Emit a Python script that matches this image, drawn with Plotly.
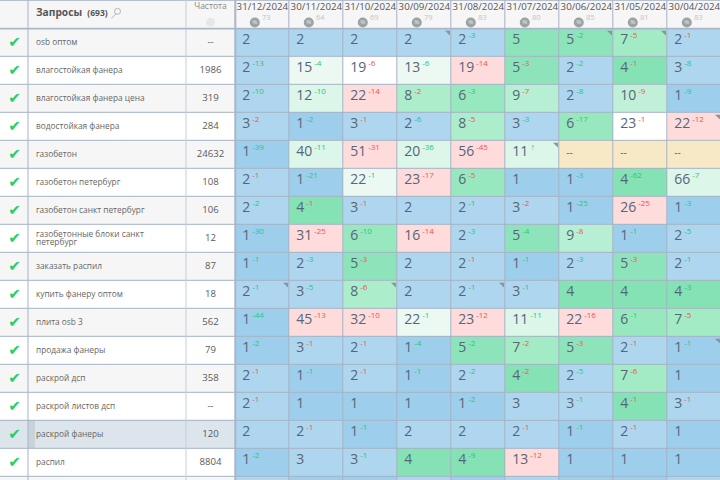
import plotly.graph_objects as go

queries = ["osb оптом", "влагостойкая фанера", "влагостойкая фанера цена", "водостойкая фанера",
           "газобетон", "газобетон петербург", "газобетон санкт петербург",
           "газобетонные блоки санкт\nпетербург", "заказать распил", "купить фанеру оптом",
           "плита osb 3", "продажа фанеры", "раскрой дсп", "раскрой листов дсп",
           "раскрой фанеры", "распил"]
frequency = ["--", "1986", "319", "284", "24632", "108", "106", "12", "87", "18", "562", "79", "358", "--", "120", "8804"]
dates = ["31/12/2024", "30/11/2024", "31/10/2024", "30/09/2024", "31/08/2024", "31/07/2024", "30/06/2024", "31/05/2024", "30/04/2024"]
visibility = [73, 64, 69, 79, 83, 80, 85, 81, 83]

# position per month (None = not ranked)
positions = [
    [2, 2, 2, 2, 2, 5, 5, 7, 2],
    [2, 15, 19, 13, 19, 5, 2, 4, 3],
    [2, 12, 22, 8, 6, 9, 2, 10, 1],
    [3, 1, 3, 2, 8, 3, 6, 23, 22],
    [1, 40, 51, 20, 56, 11, None, None, None],
    [2, 1, 22, 23, 6, 1, 1, 4, 66],
    [2, 4, 3, 2, 2, 3, 1, 26, 1],
    [1, 31, 6, 16, 2, 5, 9, 1, 2],
    [1, 2, 5, 2, 2, 1, 2, 5, 2],
    [2, 3, 8, 2, 2, 3, 4, 4, 4],
    [1, 45, 32, 22, 23, 11, 22, 6, 7],
    [1, 3, 2, 1, 5, 7, 5, 2, 1],
    [2, 1, 2, 1, 2, 4, 2, 7, 1],
    [2, 1, 1, 1, 1, 3, 3, 4, 3],
    [2, 2, 1, 2, 2, 2, 1, 2, 1],
    [1, 3, 3, 4, 4, 13, 1, 1, 1],
]
# change per month: positive = improved (green), negative = worsened (red), "up" = new
changes = [
    [0, 0, 0, 0, 3, 0, 2, -5, -1],
    [13, 4, -6, 6, -14, -3, 2, -1, 8],
    [10, 10, -14, -2, 3, -7, 8, -9, 9],
    [-2, 2, -1, 6, -5, 3, 17, -1, -12],
    [39, 11, -31, 36, -45, "up", 0, 0, 0],
    [-1, 21, 1, -17, -5, 0, 3, 62, 7],
    [2, -1, -1, 0, 1, -2, 25, -25, 3],
    [30, -25, 10, -14, 3, 4, -8, 1, 5],
    [1, 3, -3, 0, -1, 1, 3, -3, 1],
    [1, 5, -6, 0, 1, 1, 0, 0, 3],
    [44, -13, -10, 1, -12, 11, -16, 1, -5],
    [2, -1, -1, 4, 2, -2, -3, -1, 1],
    [-1, 1, -1, 1, 2, -2, 5, -6, 0],
    [-1, 0, 0, 0, 2, 0, 1, -1, -1],
    [0, -1, 1, 0, 0, -1, 1, -1, 0],
    [2, 0, 1, 0, 9, -12, 0, 0, 0],
]
partial_row = [2, 1, 1, 2, 1, 2, 1, 1, 2]  # row cut off by the window, only its colour shows
flagged = [(0, 3), (0, 6), (0, 7), (3, 8), (4, 5), (9, 0), (9, 2), (9, 4), (11, 8)]

palette = ["#9dcfec", "#aed6ef", "#85e2b4", "#8ee4ba", "#97e8bf", "#a3ebc5", "#acedcb", "#b6efd3",
           "#c1f0d9", "#dcf6e9", "#ecf9f3", "#ffffff", "#ffdcdc", "#f7e8c6", "#f6f6f6"]
HEADER = 14


def shade(v, d):
    if v is None:
        return 13
    if v == 1:
        return 0
    if v <= 3:
        return 1
    if v <= 10:
        return v - 2
    if d == "up":
        return 9
    if d < 0:
        return 12 if d <= -10 else 11
    return 9 if d >= 7 else 10


n_pal = len(palette)
scale = []
for i, c in enumerate(palette):
    scale += [[i / n_pal, c], [(i + 1) / n_pal, c]]

z = [[HEADER] * 9]
for vs, ds in zip(positions, changes):
    z.append([shade(v, d) for v, d in zip(vs, ds)])
z.append([shade(v, 0) for v in partial_row])
rows = list(range(-1, 17))

SPLIT = 235.3
CELL_W = 54.0
ROW_H = 28.0
fig = go.Figure()

fig.add_trace(go.Heatmap(x=list(range(9)), y=rows, z=z, colorscale=scale, zmin=-0.5, zmax=n_pal - 0.5,
                         showscale=False, xgap=1, ygap=1, hoverinfo="skip", xaxis="x", yaxis="y"))

# left table: check / query / frequency columns
left_pal = ["#f6f6f6", "#ffffff", "#dbe5eb", "#c8d3d9"]
left_scale = []
for i, c in enumerate(left_pal):
    left_scale += [[i / 4, c], [(i + 1) / 4, c]]
left_z = []
for r in rows:
    if r == -1:
        left_z.append([0, 0, 0, 0])
    elif r == 14:
        left_z.append([2, 3, 2, 2])
    else:
        c = 0 if r % 2 == 0 else 1
        left_z.append([c, c, c, c])
fig.add_trace(go.Heatmap(x=[0, 28, 35, 186, SPLIT], y=rows, z=left_z, colorscale=left_scale, zmin=-0.5, zmax=3.5,
                         showscale=False, xgap=0, ygap=1, hoverinfo="skip", xaxis="x2", yaxis="y"))

SLATE = "#566677"
GREEN = "#25c875"
RED = "#f84f52"


def cell_text(v, d):
    if v is None:
        return '<span style="font-size:10px">--</span>'
    s = str(v)
    if d == "up":
        return s + f'<span style="font-size:8px">&nbsp;</span><sup><span style="color:{GREEN};font-size:9px">↑</span></sup>'
    if d == 0:
        return s
    col = GREEN if d > 0 else RED
    return s + f'<span style="font-size:7px">&nbsp;</span><sup><span style="color:{col};font-size:8px">-{abs(d)}</span></sup>'


xs, ys, ts = [], [], []
for r, (vs, ds) in enumerate(zip(positions, changes)):
    for c, (v, d) in enumerate(zip(vs, ds)):
        xs.append(c - 0.5 + 7.0 / CELL_W)
        ys.append(r - 2.5 / ROW_H)
        ts.append(cell_text(v, d))
fig.add_trace(go.Scatter(x=xs, y=ys, text=ts, mode="text", textposition="middle right",
                         textfont=dict(family="Open Sans", size=14, color=SLATE),
                         hoverinfo="skip", cliponaxis=False, xaxis="x", yaxis="y"))

# corner flags
fig.add_trace(go.Scatter(x=[c + 0.5 - 3.0 / CELL_W for r, c in flagged],
                         y=[r - 0.5 + 3.5 / ROW_H for r, c in flagged],
                         mode="markers", marker=dict(symbol="triangle-ne", size=5.5, color="#8a939c"),
                         hoverinfo="skip", xaxis="x", yaxis="y"))

# header icons and visibility numbers
fig.add_trace(go.Scatter(x=[c - 7.5 / CELL_W for c in range(9)], y=[-1 + 7.7 / ROW_H] * 9,
                         mode="markers+text", text=["%"] * 9, textposition="middle center",
                         textfont=dict(size=6, color="#e8e8e8", family="Open Sans"),
                         marker=dict(symbol="circle", size=10, color="#9ba3a3"),
                         hoverinfo="skip", xaxis="x", yaxis="y"))
fig.add_trace(go.Scatter(x=[c + 4 / CELL_W for c in range(9)], y=[-1 + 3.8 / ROW_H] * 9,
                         mode="text", text=[str(v) for v in visibility], textposition="middle center",
                         textfont=dict(size=7.5, color="#c4c4c4", family="Open Sans"),
                         hoverinfo="skip", xaxis="x", yaxis="y"))

# left table texts
fig.add_trace(go.Scatter(x=[14.5] * 16, y=list(range(16)), mode="text", text=["✔"] * 16,
                         textposition="middle center",
                         textfont=dict(family="DejaVu Sans", size=15, color="#17d36c"),
                         hoverinfo="skip", xaxis="x2", yaxis="y"))
nx, ny, nt = [], [], []
for r, q in enumerate(queries):
    parts = q.split("\n")
    for k, p in enumerate(parts):
        nx.append(36)
        ny.append(r + (k - (len(parts) - 1) / 2) * 8.6 / ROW_H)
        nt.append(p)
fig.add_trace(go.Scatter(x=nx, y=ny, mode="text", text=nt, textposition="middle right",
                         textfont=dict(family="Open Sans", size=8.3, color="#666666"),
                         hoverinfo="skip", xaxis="x2", yaxis="y"))
fig.add_trace(go.Scatter(x=[210.5] * 16, y=list(range(16)), mode="text", text=frequency,
                         textposition="middle center",
                         textfont=dict(family="Open Sans", size=9.6, color="#5a5a5a"),
                         hoverinfo="skip", xaxis="x2", yaxis="y"))
fig.add_trace(go.Scatter(x=[36], y=[-1 - 1.5 / ROW_H], mode="text",
                         text=['<b>Запросы</b>&nbsp;&nbsp;<b><span style="font-size:8.5px">(693)</span></b>'],
                         textposition="middle right",
                         textfont=dict(family="Open Sans", size=10.2, color="#555555"),
                         hoverinfo="skip", xaxis="x2", yaxis="y"))
fig.add_trace(go.Scatter(x=[210.5], y=[-1 - 8 / ROW_H], mode="text", text=["Частота"],
                         textposition="middle center",
                         textfont=dict(family="Open Sans", size=8.5, color="#888888"),
                         hoverinfo="skip", xaxis="x2", yaxis="y"))
fig.add_trace(go.Scatter(x=[210.5], y=[-1 + 7.5 / ROW_H], mode="markers",
                         marker=dict(symbol="circle", size=9, color="#e6e8e8"),
                         hoverinfo="skip", xaxis="x2", yaxis="y"))
fig.add_trace(go.Scatter(x=[117.5], y=[-1 - 3.5 / ROW_H], mode="markers",
                         marker=dict(symbol="circle-open", size=6, color="#b5b5b5", line=dict(width=1, color="#b5b5b5")),
                         hoverinfo="skip", xaxis="x2", yaxis="y"))
fig.add_trace(go.Scatter(x=[114], y=[-1 + 1 / ROW_H], mode="markers",
                         marker=dict(symbol="line-ne", size=5, color="#b5b5b5", line=dict(width=1, color="#b5b5b5")),
                         hoverinfo="skip", xaxis="x2", yaxis="y"))

GRID = "#a6b3c4"
shapes = [
    dict(type="line", xref="x2", yref="paper", x0=28, x1=28, y0=0, y1=1, line=dict(color=GRID, width=1), layer="above"),
    dict(type="line", xref="x2", yref="paper", x0=186, x1=186, y0=0, y1=1, line=dict(color="#c5cfda", width=1), layer="above"),
    dict(type="line", xref="paper", yref="paper", x0=SPLIT / 720, x1=SPLIT / 720, y0=0, y1=1, line=dict(color="#a9b5c8", width=2), layer="above"),
    dict(type="line", xref="paper", yref="y", x0=0, x1=1, y0=-0.5, y1=-0.5, line=dict(color="#a9b5c8", width=1.5), layer="above"),
]

TOP = -1.5 - 0.8 / ROW_H
fig.update_layout(
    width=720, height=480, margin=dict(l=0, r=0, t=0, b=0), showlegend=False,
    paper_bgcolor="#f6f6f6", plot_bgcolor=GRID, shapes=shapes,
    font=dict(family="Open Sans"),
    xaxis=dict(domain=[SPLIT / 720, 1], range=[-0.5, -0.5 + (720 - SPLIT) / CELL_W], side="top",
               tickmode="array", tickvals=list(range(9)), ticktext=dates, ticklen=0,
               ticklabelposition="inside", ticklabeloverflow="allow",
               tickfont=dict(family="Open Sans", size=9.7, color="#555555"),
               showgrid=False, zeroline=False, showline=False, anchor="y"),
    xaxis2=dict(domain=[0, SPLIT / 720], range=[0, SPLIT], showticklabels=False, ticks="",
                showgrid=False, zeroline=False, showline=False, anchor="y"),
    yaxis=dict(domain=[0, 1], range=[TOP + 480 / ROW_H, TOP], showticklabels=False, ticks="",
               showgrid=False, zeroline=False, showline=False, anchor="x"),
)
fig.write_html("out.html", config={"displayModeBar": False}, post_script="document.body.style.margin='0';")
